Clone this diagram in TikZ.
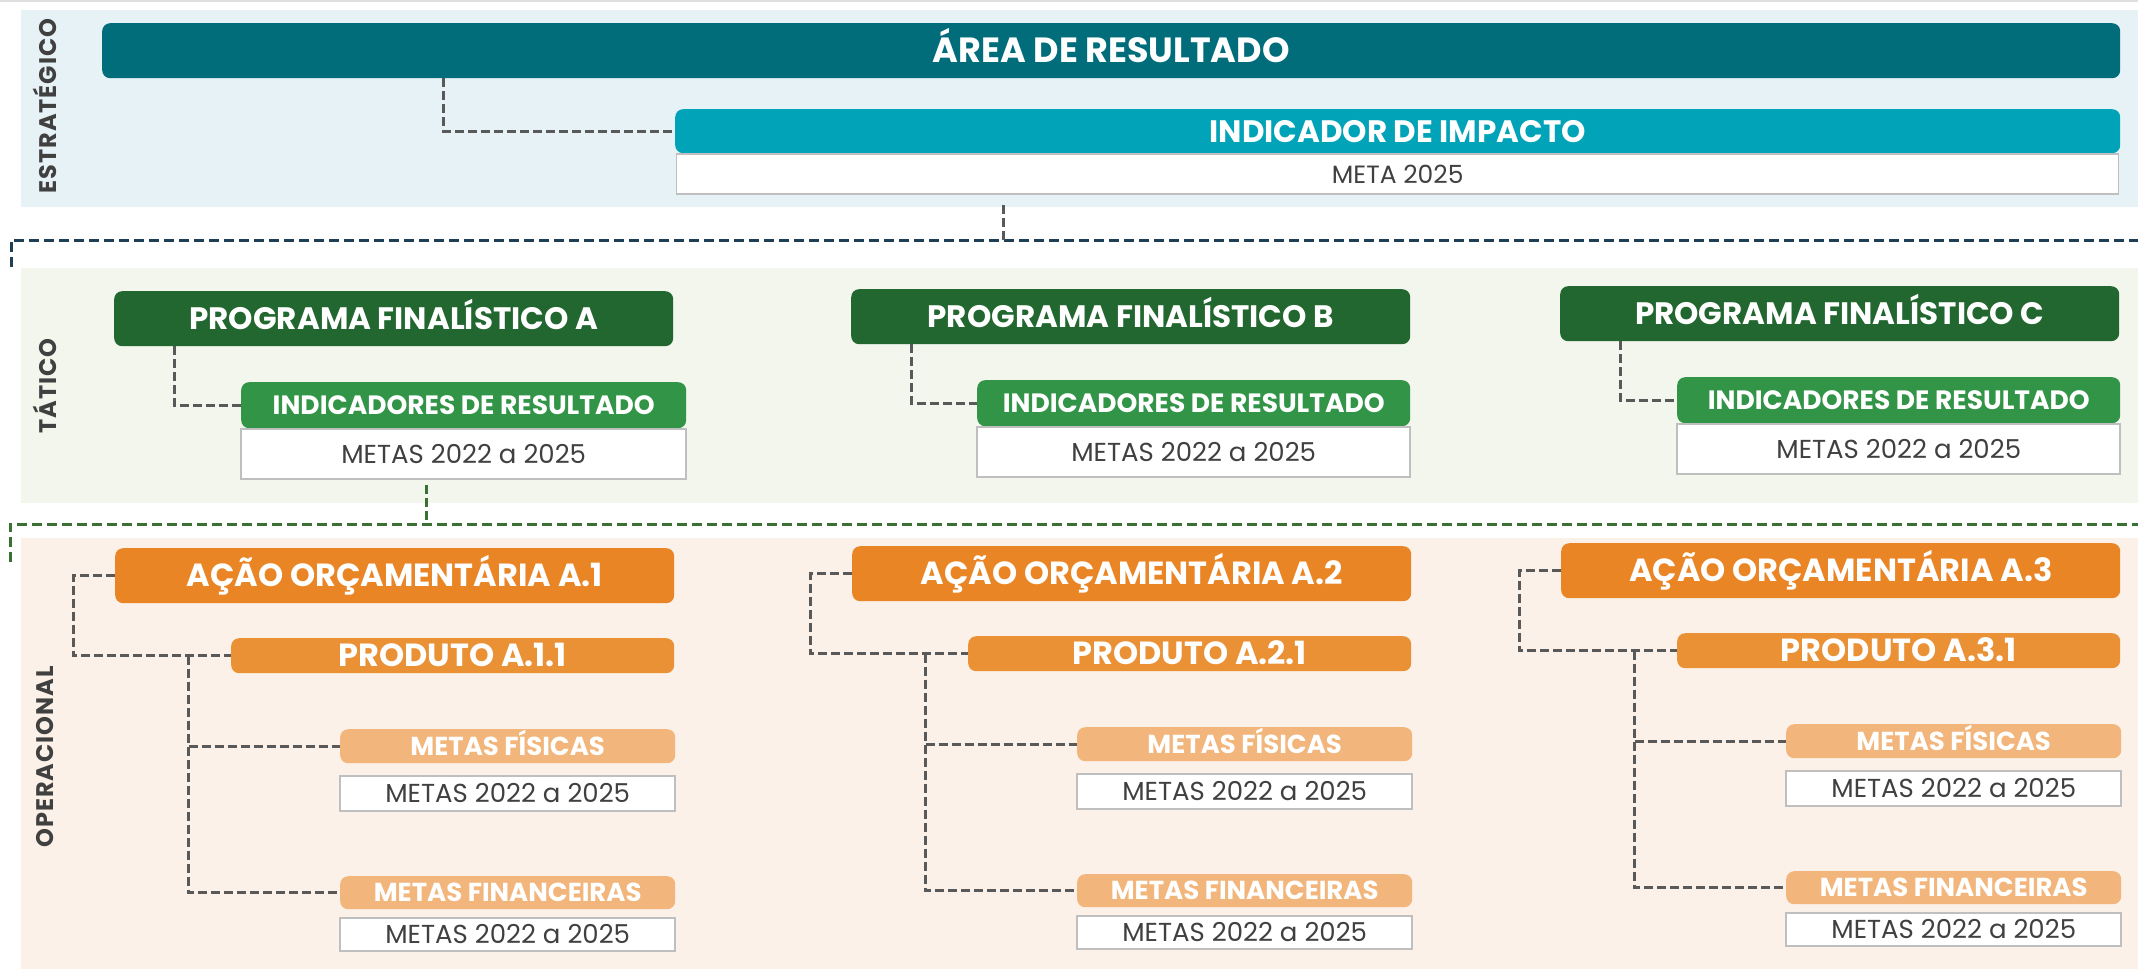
\documentclass[tikz,border=0pt]{standalone}
\usepackage{fontspec}
\setmainfont{Poppins}
\usetikzlibrary{positioning}

\definecolor{areacol}{RGB}{1,108,122}
\definecolor{impcol}{RGB}{0,163,184}
\definecolor{progcol}{RGB}{33,103,47}
\definecolor{indcol}{RGB}{49,148,71}
\definecolor{acaocol}{RGB}{233,133,37}
\definecolor{prodcol}{RGB}{234,144,53}
\definecolor{metacol}{RGB}{242,181,123}
\definecolor{estband}{RGB}{231,242,247}
\definecolor{tatband}{RGB}{242,246,236}
\definecolor{opband}{RGB}{252,241,232}
\definecolor{linecol}{RGB}{89,89,89}
\definecolor{bluedash}{RGB}{30,63,85}
\definecolor{greendash}{RGB}{59,112,52}
\definecolor{labelcol}{RGB}{64,64,64}
\definecolor{framecol}{RGB}{191,191,191}

\begin{document}
\begin{tikzpicture}[x=1pt, y=-1pt,
		box/.style={rectangle, rounded corners=8pt, inner sep=0pt, anchor=north west, text=white},
		bigtitle/.style={box, font=\bfseries\fontsize{35}{40}\selectfont, text height=24.5pt, text depth=0pt},
		title/.style={box, font=\bfseries\fontsize{31}{36}\selectfont, text height=22pt, text depth=0pt},
		bodytitle/.style={box, font=\bfseries\fontsize{32}{36}\selectfont, text height=22.5pt, text depth=0pt},
		subtitle/.style={box, font=\bfseries\fontsize{26.5}{30}\selectfont, text height=18.5pt, text depth=0pt},
		smalltitle/.style={box, font=\bfseries\fontsize{26}{30}\selectfont, text height=18pt, text depth=0pt},
		goal/.style={rectangle, inner sep=0pt, fill=white, draw=framecol, line width=1.5pt, text=labelcol, font=\fontsize{26}{30}\selectfont, text height=18.5pt, text depth=0pt},
		conn/.style={linecol, line width=3pt, dash pattern=on 9pt off 4pt},
		divider/.style={line width=3pt, dash pattern=on 10pt off 5pt},
		level/.style={rotate=90, text=labelcol, font=\bfseries\fontsize{24}{28}\selectfont\addfontfeatures{LetterSpace=4}}]
			\useasboundingbox (0,0) rectangle (2138,971);
			\fill[white] (0,0) rectangle (2138,971);
			\draw[gray!25, line width=2pt] (0,1) -- (2138,1);

			% Bands of the three levels
			\fill[estband] (21,10) rectangle (2138,207);
			\fill[tatband] (21,268) rectangle (2138,503);
			\fill[opband] (21,538) rectangle (2138,969);
			\node[level] (est) at (45,106) {ESTRATÉGICO};
			\node[level] (tat) at (45,386) {TÁTICO};
			\node[level] (ope) at (45,757) {OPERACIONAL};

			% Dividers between the levels
			\coordinate (div1) at (11,240);
			\coordinate (div2) at (10,524);
			\draw[divider, bluedash] (11,267) -- (div1) -- (2138,240);
			\draw[divider, greendash] (10,562) -- (div2) -- (2138,524);

			% Strategic level
			\node[bigtitle, fill=areacol, minimum width=2018pt, minimum height=55pt] (area) at (102,23) {ÁREA DE RESULTADO};
			\node[title, fill=impcol, minimum width=1445pt, minimum height=44pt] (impacto) at (675,109) {INDICADOR DE IMPACTO};
			\node[goal, below=0pt of impacto, minimum width=1442pt, minimum height=40pt, font=\fontsize{25}{28}\selectfont] (impmeta) {META 2025};
			\draw[conn] ([xshift=341pt]area.south west) |- (impacto.west);
			\coordinate (impdrop) at ([xshift=328pt]impmeta.south west);
			\draw[conn] ([yshift=-10pt]impdrop) -- (impdrop |- div1);

			% Tactical level
			\foreach \col/\x/\d/\il/\ir in {A/114/0/241/686, B/851/-2/977/1410, C/1560/-5/1677/2120} {
				\node[title, fill=progcol, minimum width=559pt, minimum height=55pt] (prog\col) at (\x,291+\d) {PROGRAMA FINALÍSTICO \col};
				\node[subtitle, fill=indcol, minimum width={(\ir-\il)*1pt}, minimum height=46pt] (ind\col) at (\il,382+\d) {INDICADORES DE RESULTADO};
				\node[goal, below=0pt of ind\col, minimum width={(\ir-\il)*1pt}, minimum height=50pt] (indmeta\col) {METAS 2022 a 2025};
				\draw[conn] ([xshift=60pt]prog\col.south west) |- (ind\col.west);
			}
			\coordinate (inddrop) at ([xshift=186pt]indmetaA.south west);
			\draw[conn, greendash] ([yshift=-5pt]inddrop) -- (inddrop |- div2);

			% Operational level
			\foreach \col/\n/\x/\d in {A/1/114/0, B/2/851/-2, C/3/1560/-5} {
				\node[bodytitle, fill=acaocol, minimum width=559pt, minimum height=55pt] (acao\col) at (\x+1,548+\d) {AÇÃO ORÇAMENTÁRIA A.\n};
				\node[bodytitle, fill=prodcol, minimum width=443pt, minimum height=35pt] (prod\col) at (\x+117,638+\d) {PRODUTO A.\n.1};
				\node[smalltitle, fill=metacol, minimum width=335pt, minimum height=34pt] (fis\col) at (\x+226,729+\d) {METAS FÍSICAS};
				\node[goal, below=12pt of fis\col, minimum width=335pt, minimum height=35pt] (fismeta\col) {METAS 2022 a 2025};
				\node[smalltitle, fill=metacol, minimum width=335pt, minimum height=33pt] (fin\col) at (\x+226,876+\d) {METAS FINANCEIRAS};
				\node[goal, below=8pt of fin\col, minimum width=335pt, minimum height=33pt] (finmeta\col) {METAS 2022 a 2025};
				\draw[conn] (acao\col.west) -- ++(-42,0) |- (prod\col.west);
				\draw[conn] ([xshift=-43pt]prod\col.west) |- (fis\col.west);
				\draw[conn] ([xshift=-43pt]prod\col.west) |- (fin\col.west);
			}
		\end{tikzpicture}
\end{document}
